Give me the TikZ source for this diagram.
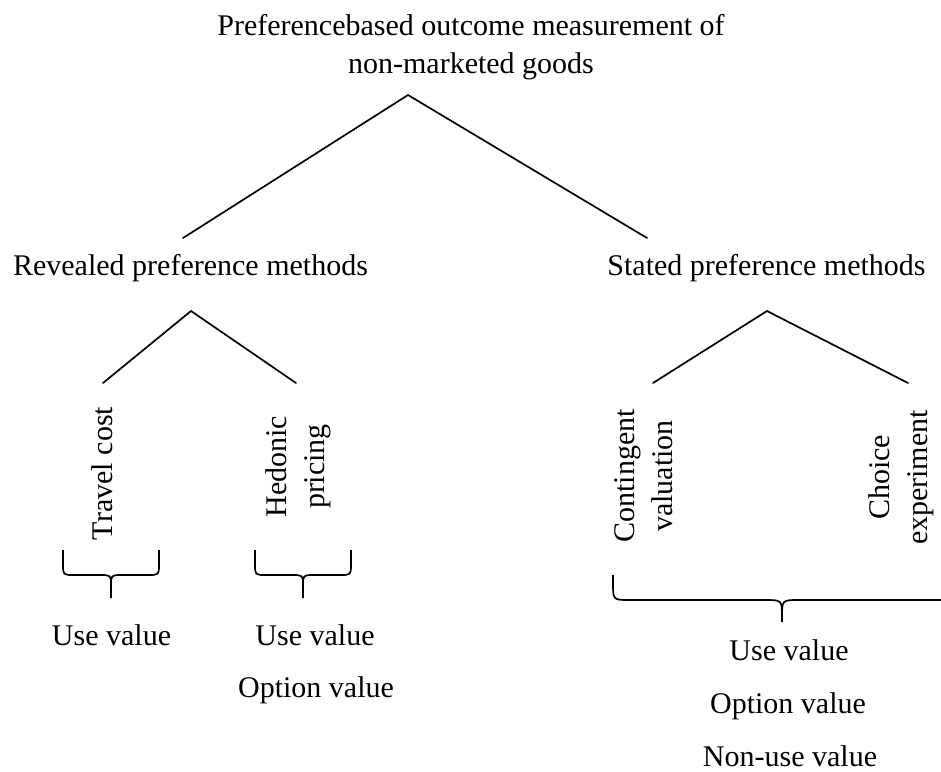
\documentclass[tikz,border=0pt]{standalone}
\usepackage{fontspec}
\setmainfont{Liberation Serif}

% Downward curly brace: #1 left x, #2 right x, #3 tip x,
% #4 top y of the ends, #5 y of the horizontal bar, #6 tip y, #7 corner radius
\newcommand\bracedown[7]{%
  \draw[bracket]
    (#1,#4) -- (#1,#5-#7) .. controls (#1,#5) .. (#1+#7,#5)
      -- (#3-#7,#5) .. controls (#3,#5) .. (#3,#5+#7) -- (#3,#6)
    (#2,#4) -- (#2,#5-#7) .. controls (#2,#5) .. (#2-#7,#5)
      -- (#3+#7,#5) .. controls (#3,#5) .. (#3,#5+#7);
}

\begin{document}
\begin{tikzpicture}[x=1pt,y=-1pt,
  txt/.style={font=\fontsize{30}{38}\selectfont, inner sep=0pt, outer sep=0pt},
  vtxt/.style={txt, rotate=90, align=center},
  branch/.style={line width=1.7pt, line cap=round, line join=miter},
  bracket/.style={line width=1.7pt, line join=round}]
\clip (0,0) rectangle (941,771);

% headings
\node[txt, align=center] (root) at (471,47)
  {Preferencebased outcome measurement of\\non-marketed goods};
\node[txt, anchor=base] (revealed) at (190.5,275) {Revealed preference methods};
\node[txt, anchor=base] (stated) at (766.5,275) {Stated preference methods};

% methods, set vertically
\node[vtxt] (travel) at (102.5,473.5) {Travel cost};
\node[vtxt] (hedonic) at (298.5,466.5) {Hedonic\\pricing};
\node[vtxt] (contingent) at (644,476) {Contingent\\valuation};
\node[vtxt] (choice) at (901,477.5) {Choice\\experiment};

% values captured by each method
\node[txt, anchor=base] (useA) at (111.5,645) {Use value};
\node[txt, anchor=base] (useB) at (315,645) {Use value};
\node[txt, anchor=base] (optB) at (316,697) {Option value};
\node[txt, anchor=base] (useC) at (789,660) {Use value};
\node[txt, anchor=base] (optC) at (788,713) {Option value};
\node[txt, anchor=base] (nonC) at (790,766) {Non-use value};

% branch points
\coordinate (rootTip) at (408,95);
\coordinate (revTop) at (183,238);
\coordinate (staTop) at (647,238);
\coordinate (revTip) at (191,311);
\coordinate (travelEnd) at (103,383);
\coordinate (hedonicEnd) at (296,383);
\coordinate (staTip) at (767,311);
\coordinate (contEnd) at (653,383);
\coordinate (choiceEnd) at (908,383);

\draw[branch] (revTop) -- (rootTip) -- (staTop);
\draw[branch] (travelEnd) -- (revTip) -- (hedonicEnd);
\draw[branch] (contEnd) -- (staTip) -- (choiceEnd);

% braces gathering the values
\bracedown{63}{159}{111}{550}{575}{598}{11}
\bracedown{255}{351}{303}{550}{575}{598}{11}
\bracedown{613}{951}{782}{575}{600}{622}{17}
\end{tikzpicture}
\end{document}
